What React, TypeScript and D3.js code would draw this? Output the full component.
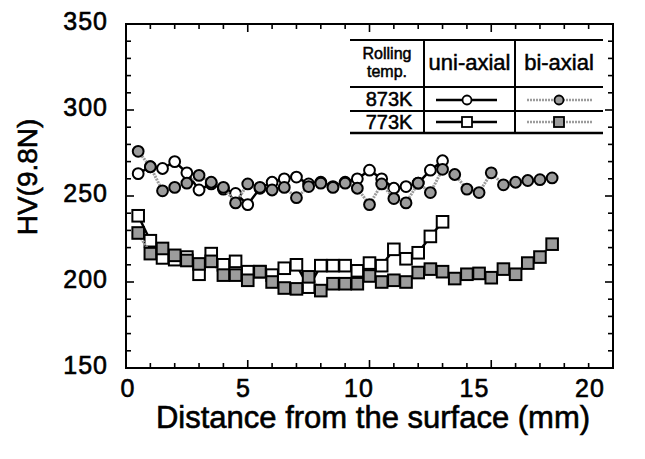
import React from "react";
import { scaleLinear, line, range } from "d3";

// distance (mm) and hardness HV
const dist873uni = [0.5, 1, 1.5, 2, 2.5, 3, 3.5, 4, 4.5, 5, 5.5, 6, 6.5, 7, 7.5, 8, 8.5, 9, 9.5, 10, 10.5, 11, 11.5, 12, 12.5, 13];
const hv873uni = [263, 267, 266, 270, 263.5, 253.5, 257, 254, 251.5, 245, 254.5, 258, 260, 261, 257, 258, 255.5, 258, 260, 265, 260, 254.5, 255.5, 257.5, 265, 270.5];

const dist873bi = [0.5, 1, 1.5, 2, 2.5, 3, 3.5, 4, 4.5, 5, 5.5, 6, 6.5, 7, 7.5, 8, 8.5, 9, 9.5, 10, 10.5, 11, 11.5, 12, 12.5, 13, 13.5, 14, 14.5, 15, 15.5, 16, 16.5, 17, 17.5];
const hv873bi = [276, 267, 253, 255, 257.5, 262, 258, 255, 246, 257, 255, 253.5, 255, 249, 255.5, 257.5, 255, 257.5, 254.5, 245, 257, 248.5, 246, 257.5, 252, 265.5, 262.5, 254, 252, 263.5, 256.5, 258, 259, 259.5, 260.5];

const dist773uni = [0.5, 1, 1.5, 2, 2.5, 3, 3.5, 4, 4.5, 5, 5.5, 6, 6.5, 7, 7.5, 8, 8.5, 9, 9.5, 10, 10.5, 11, 11.5, 12, 12.5, 13];
const hv773uni = [238.5, 224, 214, 213, 214.5, 204.5, 216.5, 210, 212, 206, 206, 204, 208, 210, 197, 209.5, 209.5, 209.5, 206.5, 211, 209.5, 219, 213.5, 217, 226.5, 235];

const dist773bi = [0.5, 1, 1.5, 2, 2.5, 3, 3.5, 4, 4.5, 5, 5.5, 6, 6.5, 7, 7.5, 8, 8.5, 9, 9.5, 10, 10.5, 11, 11.5, 12, 12.5, 13, 13.5, 14, 14.5, 15, 15.5, 16, 16.5, 17, 17.5];
const hv773bi = [228.5, 216.5, 219.5, 215.5, 212.5, 210.5, 212, 204, 204, 201, 206, 200, 196.5, 196, 203, 195, 199, 199, 199, 203.5, 200, 201, 200, 205.5, 207.5, 206, 202, 204.5, 205, 202.5, 207.5, 204.5, 211, 214.5, 222];

const xTickLabels = [0, 5, 10, 15, 20];
const yTickLabels = [150, 200, 250, 300, 350];

const FONT = "'Liberation Sans', Arial, sans-serif";
const GRAY = "#9c9c9c";

function App() {
  const x = scaleLinear().domain([0, 20]).range([126, 613]);
  const y = scaleLinear().domain([150, 350]).range([368, 24]);
  // the printed x labels sit a bit inside the tick marks
  const xLab = scaleLinear().domain([0, 20]).range([128, 590]);

  const [x0, x1] = x.range();
  const [y0, y1] = y.range();

  const mk = (xs: number[], ys: number[]) =>
    line<number>()
      .x((_, i) => x(xs[i]))
      .y((d) => y(d))(ys) || "";

  const circles = (xs: number[], ys: number[], fill: string) =>
    ys.map((v, i) => (
      <circle key={i} cx={x(xs[i])} cy={y(v)} r={5.4} fill={fill} stroke="#000" strokeWidth={2} />
    ));
  const squares = (xs: number[], ys: number[], fill: string) =>
    ys.map((v, i) => (
      <rect key={i} x={x(xs[i]) - 5.8} y={y(v) - 5.8} width={11.6} height={11.6} fill={fill} stroke="#000" strokeWidth={2} />
    ));

  const xMinor = range(0, 21, 1);
  const yMinor = range(150, 351, 10);

  // legend table geometry
  const tL = 350, tR = 603, c1 = 424, c2 = 515;
  const rTop = 40, rHead = 87, rMid = 111, rBot = 133;
  const row1 = 100, row2 = 122;
  const uniC = 467, biC = 559;
  const bold = { stroke: "#000", strokeWidth: 0.6 };

  return (
    <div style={{ position: "absolute", left: 0, top: 0 }}>
      <svg width={645} height={459} style={{ display: "block", background: "#fff" }} fontFamily={FONT}>
        {/* frame */}
        <rect x={x0} y={y1} width={x1 - x0} height={y0 - y1} fill="none" stroke="#000" strokeWidth={2} />
        {xMinor.map((t) => {
          const len = t % 5 === 0 ? 8 : 5;
          return (
            <g key={"xt" + t} stroke="#000" strokeWidth={1.6}>
              <line x1={x(t)} x2={x(t)} y1={y0} y2={y0 - len} />
              <line x1={x(t)} x2={x(t)} y1={y1} y2={y1 + len} />
            </g>
          );
        })}
        {yMinor.map((t) => {
          const len = t % 50 === 0 ? 8 : 5;
          return (
            <g key={"yt" + t} stroke="#000" strokeWidth={1.6}>
              <line x1={x0} x2={x0 + len} y1={y(t)} y2={y(t)} />
              <line x1={x1} x2={x1 - len} y1={y(t)} y2={y(t)} />
            </g>
          );
        })}

        {/* tick labels */}
        <g {...bold}>
          {xTickLabels.map((t) => (
            <text key={"xl" + t} x={xLab(t)} y={397} fontSize={25} textAnchor="middle" letterSpacing={1}>
              {t}
            </text>
          ))}
          {yTickLabels.map((t) => (
            <text key={"yl" + t} x={108} y={y(t) + 6} fontSize={25} textAnchor="end" letterSpacing={1}>
              {t}
            </text>
          ))}

          {/* axis titles */}
          <text x={373} y={428} fontSize={31} textAnchor="middle">
            Distance from the surface (mm)
          </text>
          <text transform="translate(37,177) rotate(-90)" fontSize={28} textAnchor="middle">
            HV(9.8N)
          </text>
        </g>

        {/* 873K uni-axial */}
        <path d={mk(dist873uni, hv873uni)} fill="none" stroke="#000" strokeWidth={2.5} />
        {circles(dist873uni, hv873uni, "#fff")}
        {/* 873K bi-axial */}
        <path d={mk(dist873bi, hv873bi)} fill="none" stroke={GRAY} strokeWidth={3} strokeDasharray="2 1" />
        {circles(dist873bi, hv873bi, GRAY)}
        {/* 773K uni-axial */}
        <path d={mk(dist773uni, hv773uni)} fill="none" stroke="#000" strokeWidth={2.5} />
        {squares(dist773uni, hv773uni, "#fff")}
        {/* 773K bi-axial */}
        <path d={mk(dist773bi, hv773bi)} fill="none" stroke={GRAY} strokeWidth={3} strokeDasharray="2 1" />
        {squares(dist773bi, hv773bi, GRAY)}

        {/* legend table */}
        <g stroke="#000" strokeWidth={2}>
          <line x1={tL} x2={tR} y1={rTop} y2={rTop} />
          <line x1={tL} x2={tR} y1={rHead} y2={rHead} />
          <line x1={tL} x2={tR} y1={rMid} y2={rMid} />
          <line x1={tL} x2={tR} y1={rBot} y2={rBot} strokeWidth={2.5} />
          <line x1={c1} x2={c1} y1={rTop} y2={rBot} />
          <line x1={c2} x2={c2} y1={rTop} y2={rBot} />
        </g>
        <g {...bold} strokeWidth={0.5}>
          <text x={(tL + c1) / 2} y={59} fontSize={16} textAnchor="middle">Rolling</text>
          <text x={(tL + c1) / 2} y={77} fontSize={16} textAnchor="middle">temp.</text>
          <text x={(c1 + c2) / 2} y={70} fontSize={22} textAnchor="middle">uni-axial</text>
          <text x={(c2 + tR) / 2} y={70} fontSize={22} textAnchor="middle">bi-axial</text>
          <text x={(tL + c1) / 2 + 2} y={106} fontSize={20} textAnchor="middle">873K</text>
          <text x={(tL + c1) / 2 + 2} y={129} fontSize={20} textAnchor="middle">773K</text>
        </g>

        <line x1={436} x2={497} y1={row1} y2={row1} stroke="#000" strokeWidth={2.5} />
        <circle cx={uniC} cy={row1} r={4.5} fill="#fff" stroke="#000" strokeWidth={1.8} />
        <line x1={436} x2={497} y1={row2} y2={row2} stroke="#000" strokeWidth={2.5} />
        <rect x={uniC - 5} y={row2 - 5} width={10} height={10} fill="#fff" stroke="#000" strokeWidth={1.8} />

        <line x1={527} x2={592} y1={row1} y2={row1} stroke={GRAY} strokeWidth={2.5} strokeDasharray="2 1" />
        <circle cx={biC} cy={row1} r={4.5} fill={GRAY} stroke="#000" strokeWidth={1.8} />
        <line x1={527} x2={592} y1={row2} y2={row2} stroke={GRAY} strokeWidth={2.5} strokeDasharray="2 1" />
        <rect x={biC - 5} y={row2 - 5} width={10} height={10} fill={GRAY} stroke="#000" strokeWidth={1.8} />
      </svg>
    </div>
  );
}

export default App;
